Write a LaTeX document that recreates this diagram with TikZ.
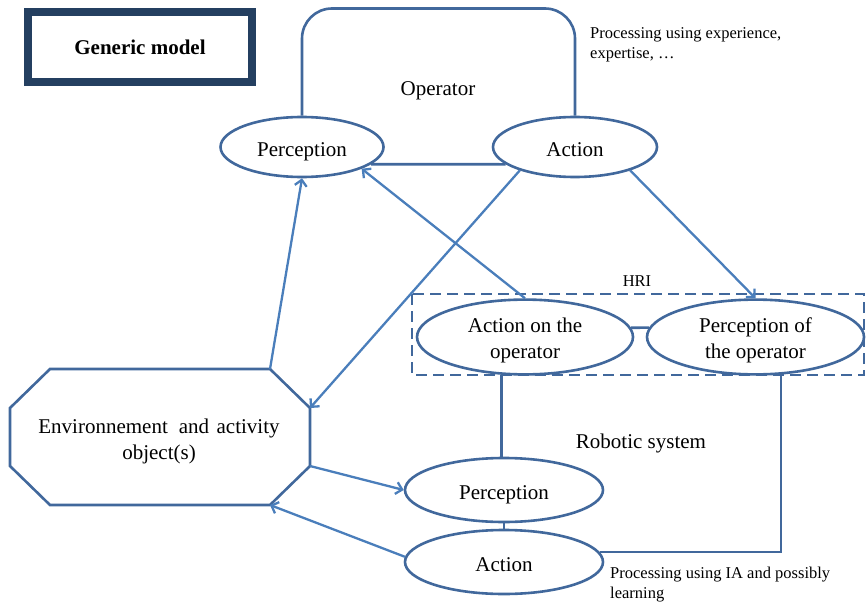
\documentclass[tikz,border=0pt]{standalone}
\usepackage{fontspec}
\setmainfont{Liberation Serif}
\usetikzlibrary{arrows.meta,shapes.geometric}
\definecolor{shapec}{HTML}{41689C}
\definecolor{arrc}{HTML}{4A7EBB}
\definecolor{navyc}{HTML}{243F60}
\newcommand{\mainfs}{\fontsize{21}{26}\selectfont}
\newcommand{\smallfs}{\fontsize{16.5}{20}\selectfont}
\begin{document}
\begin{tikzpicture}[x=1pt,y=-1pt,
  ell/.style={ellipse, draw=shapec, line width=2.6pt, fill=white, inner sep=0pt, align=center, font=\mainfs},
  one/.style={text height=19pt, text depth=0pt},
  two/.style={text height=48.3pt, text depth=4.6pt},
  shapeline/.style={draw=shapec, line width=2.6pt},
  arrline/.style={draw=arrc, line width=2.3pt, -{Straight Barb[length=6pt,width=12pt]}},
  lbl/.style={font=\mainfs, align=center, inner sep=0pt},
  small/.style={font=\smallfs, align=left, inner sep=0pt, anchor=west}]
\useasboundingbox (0,0) rectangle (866,604);

% title
\node[draw=navyc, line width=8pt, minimum width=224pt, minimum height=70pt, font=\mainfs\bfseries] (title) at (140,47) {Generic model};

% operator part
\node[ell, one, minimum width=163pt, minimum height=60pt] (p1) at (302,147) {Perception};
\node[ell, one, minimum width=164pt, minimum height=60pt] (a1) at (575,147) {Action};
\coordinate (optop) at (438,8.5);
\draw[shapeline, rounded corners=30pt] (p1.north) |- (optop) -| (a1.north);
\draw[shapeline] (p1.-14) -- (a1.-166);
\node[lbl, one] (op) at (438,86.5) {Operator};
\node[small] (proc1) at (590,44.5) {Processing using experience,\\expertise, …};

% HRI
\draw[draw=shapec, line width=2.4pt, dash pattern=on 11pt off 6pt] (412,294) rectangle (864,375);
\node[font=\smallfs, inner sep=0pt] (hri) at (637,281) {HRI};
\node[ell, two, minimum width=216pt, minimum height=67pt] (aop) at (525,337) {Action on the\\operator};
\node[ell, two, minimum width=217pt, minimum height=67pt] (po) at (755.5,337) {Perception of\\the operator};
\draw[shapeline] (aop.5) -- (po.175);

% robotic system
\node[ell, one, minimum width=198pt, minimum height=64pt] (p2) at (504,490) {Perception};
\node[ell, one, minimum width=198pt, minimum height=64pt] (a2) at (504,562) {Action};
\draw[shapeline] (p2.south) -- (a2.north);
\draw[shapeline] (aop.-122) -- (aop.-122 |- p2.north);
\draw[shapeline] (po.-56) |- (a2.6);
\node[lbl, one] (rs) at (641,438.5) {Robotic system};
\node[small] (proc2) at (610,585) {Processing using IA and possibly\\learning};

% environment
\coordinate (e1) at (50,369);
\coordinate (e2) at (270,369);
\coordinate (e3) at (310,408);
\coordinate (e4) at (310,466);
\coordinate (e5) at (270,505);
\coordinate (e6) at (50,505);
\coordinate (e7) at (10,466);
\coordinate (e8) at (10,408);
\draw[shapeline, fill=white, line join=miter] (e1) -- (e2) -- (e3) -- (e4) -- (e5) -- (e6) -- (e7) -- (e8) -- cycle;
\node[lbl] (env) at (159,441.5) {Environnement\hspace{11pt}and\hspace{7.5pt}activity\\object(s)};

% arrows
\draw[arrline] (e2) -- (p1.south);
\draw[arrline] (aop.north) -- (p1.-20);
\draw[arrline] (a1.-157) -- (e3);
\draw[arrline] (a1.-23) -- (po.north);
\draw[arrline] (e4) -- (p2.west);
\draw[arrline] (a2.177) -- (e5);
\end{tikzpicture}
\end{document}
